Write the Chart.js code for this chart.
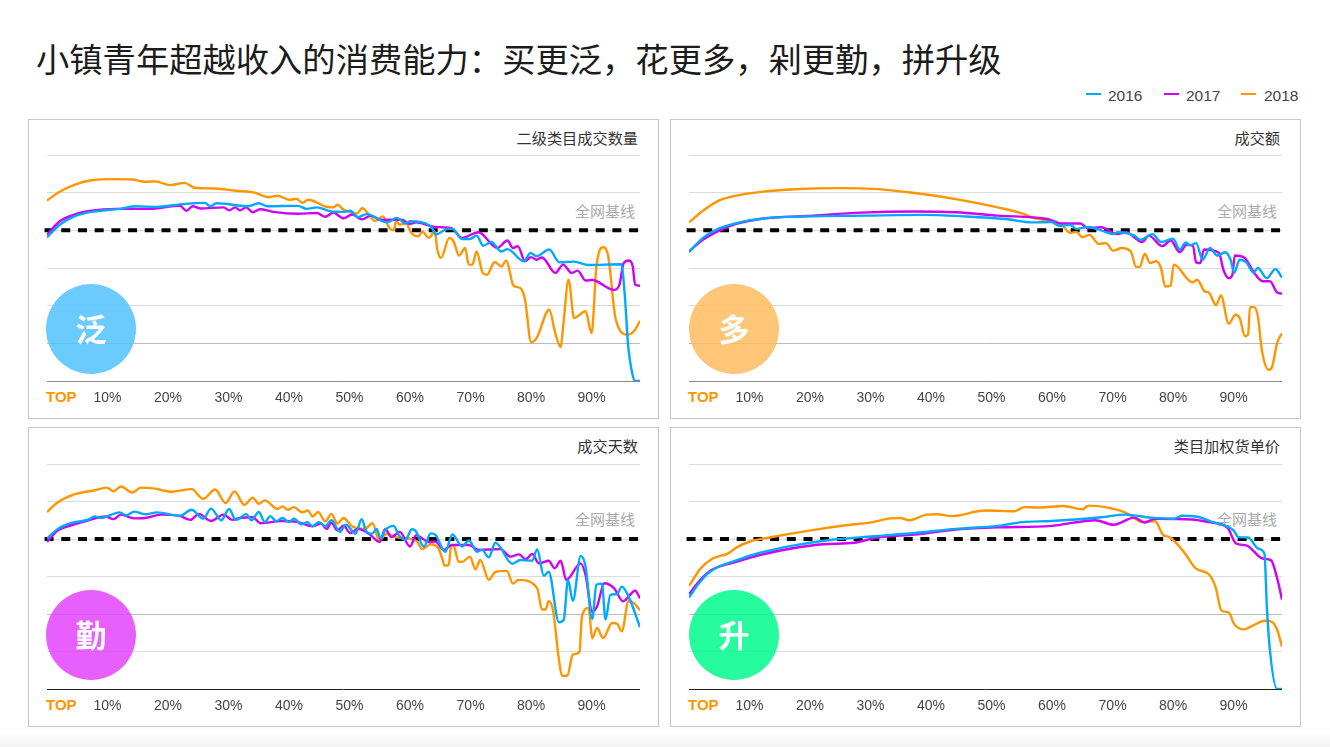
<!DOCTYPE html>
<html lang="zh"><head><meta charset="utf-8">
<style>
html,body{margin:0;padding:0;background:#fff;width:1330px;height:747px;overflow:hidden;font-family:"Liberation Sans",sans-serif}
#fade{position:absolute;left:0;top:731px;width:1330px;height:16px;background:linear-gradient(#fff,#f3f3f3)}
#title{position:absolute;left:36px;top:36px;font:33.3px/44px "Noto Sans CJK SC";color:#1c1c1c;white-space:nowrap}
.leg{position:absolute;top:87px;font-size:15.5px;line-height:18px;color:#444}
.sw{position:absolute;top:93px;width:15px;height:2px}
.panel{position:absolute;width:629px;height:298px;border:1px solid #c6c6c6;box-sizing:content-box}
.panel canvas{position:absolute;left:0;top:0}
.circle{position:absolute;z-index:2;width:90px;height:90px;border-radius:50%;text-align:center;color:#fff;font:bold 31px/88px "Noto Sans CJK SC"}
.ptitle{position:absolute;right:20px;top:7px;font:15.2px/20px "Noto Sans CJK SC";color:#333;white-space:nowrap}
.base{position:absolute;right:23px;top:81px;font:15px/20px "Noto Sans CJK SC";color:#aaa;white-space:nowrap}
.top{position:absolute;left:17px;top:268px;font:bold 15px/18px "Liberation Sans";color:#ff9500}
</style></head><body>
<div id="fade"></div>
<div id="title">小镇青年超越收入的消费能力&#xFF1A;买更泛&#xFF0C;花更多&#xFF0C;剁更勤&#xFF0C;拼升级</div>
<div id="legend"></div>
<div id="panels"></div>
<script src="https://cdn.jsdelivr.net/npm/chart.js@4"></script>
<script>
// Each series is a list of [top-percentile, index value]
const tickLabels=['10%','20%','30%','40%','50%','60%','70%','80%','90%'];
const years=['2016','2017','2018'];
const yearColors=['#00a8ff','#d000f8','#ff9500'];
const baselineValue=40;

const qty2018=[[0,47.9],[1.8,50],[4.5,52.1],[7.3,53.3],[11,53.6],[14.1,53.5],[16.2,52.9],[17.9,53],[20.3,52],[22.7,52.6],[24.4,51.3],[27.8,51.1],[31.2,50.5],[34.3,50],[36.7,48.8],[38.1,49.2],[40.1,48.1],[41.2,48.4],[42.2,47.3],[43.2,48.1],[46.3,46.2],[47.3,46.1],[48,46.8],[49,45.5],[50.4,44.8],[51.2,44.4],[52.1,45.9],[53.2,44.2],[54.2,42.5],[55.5,43.7],[56.6,40.6],[57.3,40],[57.7,42.4],[58.3,41.5],[59.3,41.9],[60.3,39.1],[61.4,38.4],[62,39.7],[63.1,38],[64.1,39.7],[64.5,34.9],[65.1,32.7],[66.5,38],[67.2,37],[68.1,33.3],[69.1,35.3],[69.7,30.9],[70.3,30.9],[71,34.4],[72,28.7],[72.7,28.2],[74,31.6],[75.1,30.4],[75.9,32],[77.1,25.3],[78.2,24.7],[79,21.6],[80,10.3],[80.9,11.4],[83,18.9],[84,12.7],[84.9,9],[85.3,14.5],[86.2,26.9],[87.1,16.7],[89,18.5],[90,12.7],[90.8,30.4],[91.9,35.5],[92.7,33.5],[94,16.3],[96,12.3],[97,13.2],[98,16]];
const qty2017=[[0,38.8],[2.1,42.4],[4.5,44.2],[7.3,45.2],[11.4,45.7],[16.8,45.7],[22,46.5],[23,45.2],[24.1,46.4],[25.4,45.8],[29.2,46.1],[30.1,45.3],[31.1,46.1],[31.9,45.3],[32.9,46.1],[34,44.8],[35.2,45.6],[37.4,44.9],[41.5,44.4],[44.6,44.6],[46,43.6],[47.3,44.7],[49,43.2],[50.4,44.2],[52.1,42.9],[53.5,43.9],[55.2,42.8],[58.6,42.8],[60,41.7],[61,42.1],[64.1,40.9],[66.8,40.6],[68.6,38],[71.3,39.5],[74.4,35.3],[76.1,37.3],[77,35.3],[77.8,35.8],[79,31.8],[80,32.9],[80.9,32.2],[81.8,32.8],[84,28.7],[85.3,30.9],[86.7,28.7],[87.7,29.3],[89,26.7],[90.1,26.8],[93.7,24.2],[94.6,25.6],[95.3,31.3],[96.2,32],[96.8,30.4],[97.2,25.6],[98,25.3]];
const qty2016=[[0,38.1],[2.1,41.5],[4.5,43.7],[7.3,44.9],[12,45.7],[14.8,46.4],[18.2,46.2],[22,46.9],[26.1,47.3],[27,46.4],[28,47.2],[33.3,46.4],[35,47.2],[36.4,46.4],[41.5,46.5],[42.9,45.7],[44.6,46.1],[47,45],[49,44.9],[50.1,45.2],[51.4,43.5],[52.8,44.3],[56.2,42.1],[57.8,43.3],[59.3,41.8],[60,42.4],[63.4,41.1],[64.3,38.9],[66.2,40.4],[67,40.4],[68.6,37.7],[69.9,37.7],[71,38.6],[72.1,35.9],[73.4,36.9],[75.1,34.4],[76.1,35],[78.8,31.8],[79.9,34],[80.9,33.1],[83,34.9],[84.7,31.5],[87.1,31.7],[89.5,30.8],[94.9,31],[95.5,22.5],[96,10.1],[96.7,2.1],[97.2,0],[98,0]];

const gmv2018=[[0,42.1],[2.3,45.2],[5.1,48],[7.8,49.2],[11.9,50.2],[17.4,50.9],[24.9,51.2],[30.4,51],[37.3,49.9],[44.1,48.3],[51,46.1],[55.4,44.3],[56.8,43.3],[59.9,42.4],[61.6,41.5],[63,39.3],[64,39.6],[65,38.2],[66.2,38.8],[67.7,36.4],[68.9,36.6],[70.1,34.6],[71.5,35.3],[73,34.4],[73.9,30.3],[74.5,30.3],[75.3,33.8],[76.2,31.3],[77.2,31.8],[78,30],[78.7,25.1],[79.6,25.3],[80.1,30.9],[83.2,26.2],[84,26.9],[85.2,23.8],[85.9,23.5],[87.1,20.1],[87.9,22.7],[89.2,15.2],[90.3,17.6],[91,16.7],[91.9,11.9],[92.4,12.3],[92.7,19.6],[93.4,19.6],[94,17.2],[94.7,7.9],[95.8,3],[96.3,3.5],[97.2,10.1],[98,12.7]];
const gmv2017=[[0,34.4],[2.3,37.5],[5.1,40],[7.8,41.7],[12.6,43.2],[19.5,43.8],[28.4,44.7],[37.3,45],[44.1,44.8],[51,43.9],[59.2,43],[61.6,41.8],[64.7,41.8],[65.9,40.6],[68.1,40.8],[70.8,39],[72.2,39.5],[74.9,36.9],[76,38.6],[78.2,35.8],[79.6,37.3],[81.1,34.2],[82.3,36.2],[83.3,35.8],[83.8,31.5],[84.5,31.3],[85.1,34.9],[87.6,34],[88.3,29.6],[89.2,27.3],[89.8,28.2],[90.2,33.3],[91.8,32.7],[93.4,28.7],[94.8,26.5],[96,26.5],[97.2,23.5],[98,23.2]];
const gmv2016=[[0,34.2],[2.3,38],[5.1,40.6],[7.8,41.9],[12.6,43.2],[19.5,43.7],[29,43.9],[38.6,44.1],[45.5,43.7],[52.3,43],[56.8,42.1],[59.9,42.2],[61.2,41.2],[63,41.5],[64,40.4],[66,40.9],[68.1,40],[70.1,39],[70.8,39.5],[73.6,38.6],[74.6,37.5],[76.6,39],[78,36.9],[80,37.8],[81.1,34.9],[82.1,36.8],[82.8,36],[83.8,36.6],[84.9,32.2],[86.1,35.3],[87.3,33.3],[88.6,34.2],[89.5,32.2],[90.1,28.7],[91,32.2],[92.1,31.5],[93.3,28.8],[94,30],[95.5,27.3],[96.9,29.7],[98,27.5]];

const days2018=[[0,47.2],[1.8,49.8],[4.5,51.9],[7.9,53],[9.9,53.7],[11,52.7],[12.2,54],[14.1,52.4],[15.5,53.7],[17.6,53.5],[20.6,52.6],[23.9,53.3],[25.8,50.7],[27.8,53.2],[29.5,49.6],[31,52.7],[32.6,49.1],[34,51],[35,49.4],[36,50.3],[38.1,48],[38.9,48.7],[39.8,47.8],[40.8,48.5],[42.2,47.1],[43.1,47.6],[43.9,46],[44.8,47.2],[46,44.7],[47,46.7],[48,44.1],[49,45.6],[50.4,43.4],[52.5,42.7],[53.8,44.2],[54.9,39.6],[56.2,41.4],[57.6,40.5],[60,40.1],[61.2,39.3],[62,37.3],[63.4,38.6],[64.7,37.5],[65.3,34.9],[65.7,32.9],[66.4,33.1],[66.8,38.4],[67.3,37.9],[68,34],[68.6,33.9],[69.9,35.3],[70.8,31.9],[71.6,34.4],[73,29.1],[74.1,31.2],[76,31.5],[77,28.1],[77.9,29.1],[81,26.9],[81.8,21.2],[82.4,21.2],[82.9,23.4],[83.6,21.2],[84.6,7.9],[85.1,3.5],[86,3.6],[86.9,9.2],[88,9.9],[88.4,19.4],[89.5,21.6],[90.1,13.5],[90.9,16.3],[91.9,13.6],[93.4,17.6],[94.2,17.4],[95,15.4],[96.1,23.4],[97,22.9],[98,21]];
const days2017=[[0,39.2],[1.8,42.3],[3.9,43.6],[6.9,45],[9.7,46],[11,45.3],[12.2,46.5],[14.4,45.5],[16.2,45.6],[18.9,46.5],[22,46.1],[23.7,45.1],[25.1,46.7],[27.1,44.8],[29.2,46.5],[30.6,45.1],[31.9,45.6],[34,45.8],[35.3,44.2],[38.8,44.8],[41.5,44.5],[43.9,43.4],[45.3,44.1],[46.2,42.7],[47,44.3],[48,42.3],[49,43.6],[50.1,41.6],[51.4,42.7],[53.2,41.4],[55,39.2],[55.9,42.7],[56.9,40.5],[58.3,41.9],[60,38],[61,41],[63.1,39.2],[64.2,39.3],[65.6,37.1],[66.9,38.4],[69.7,38.4],[71.4,37.1],[74.9,37.3],[76.6,35.3],[78,35.9],[79.1,34.6],[80.2,36],[81.3,33.5],[82.9,34.2],[83.9,32.2],[84.9,34.2],[85.8,29.1],[88.2,33.5],[89,30.4],[90.1,20.7],[90.9,22],[92.1,28.2],[93.7,26.9],[95.2,23.4],[97.2,26.2],[98,24.2]];
const days2016=[[0,40.1],[1.8,42.7],[3.9,44.2],[6.9,45.2],[7.9,46],[8.9,45.6],[12,47.1],[13.1,46.3],[14.4,47.3],[16.2,46.6],[18.2,47.1],[22,46.2],[23.9,47.8],[25.8,45.4],[27.1,48.1],[28.8,45],[30.1,48],[31.2,45.1],[31.9,45.6],[32.9,46.7],[33.8,45],[35,47.2],[36,44.5],[36.9,46.1],[37.9,44.7],[38.9,45.6],[40,44.5],[40.8,45.4],[42.1,43.9],[43,44.5],[43.9,43.4],[44.9,44.5],[46,43.4],[47,45],[48.4,41.9],[49.4,43.8],[51,41.4],[52,45.3],[52.8,41.9],[53.7,41.4],[54.5,42.7],[55.1,40.2],[55.9,42.4],[57.3,43.5],[58.1,41.1],[59.2,39.7],[60.3,42.6],[60.9,42.2],[62.3,38],[63.4,41.5],[64.2,41.1],[65.8,36.6],[67,41.2],[68.6,38],[69.7,39.6],[71.1,36.6],[71.9,37.1],[73,35.1],[74.1,39],[76.9,33.4],[78.2,34.4],[80.2,34.2],[81,37.3],[82.1,30.2],[82.9,31.3],[84.6,17.8],[85.4,18.5],[86.1,29.1],[86.9,23.5],[88.2,35.5],[89,32.7],[90.1,18.7],[90.8,27.8],[91.7,28.1],[92.3,18.5],[93.1,25.1],[94.2,25.3],[95,27.3],[96.1,24.7],[98,16.5]];

const price2018=[[0,27.5],[1.9,32.1],[3.9,34.8],[6.4,36.1],[7.8,37.7],[10.2,39.4],[13.3,40.4],[20.1,42.3],[25.6,43.6],[30.4,44.5],[33.2,45.5],[34.9,45.6],[36.4,45],[39.3,46.5],[41,46.6],[43.4,46.1],[48.9,47.6],[53.7,47.4],[55.4,48.5],[57.8,48.4],[61.9,48.8],[65,47.9],[66,48.9],[68.8,48.5],[72.2,47],[75,44.5],[77,44.8],[78.4,41],[79.4,40.5],[81.8,36.5],[83.8,32.1],[85.9,30.6],[87,27.3],[88,20.9],[89.2,20.4],[90.1,17.3],[91.7,15.9],[93.4,17.1],[95.1,18.2],[96.3,17.9],[97.2,15.8],[98,11.3]];
const price2017=[[0,25.3],[1.6,28.6],[3.7,31.7],[7.8,33.9],[11.9,35.8],[17.4,37.6],[22.2,38.6],[27.3,39],[31.1,40.4],[37.3,41.2],[44.1,42.5],[51,43.1],[59.9,43.5],[63.3,44.3],[67.1,45],[70.2,43.8],[73.6,45.7],[75.3,44.4],[77,45.4],[83.2,45.2],[85.9,44.5],[89,43],[90.4,38.8],[92.1,38.3],[94.8,34.8],[96.2,34.3],[97.2,29.5],[98,23.9]];
const price2016=[[0,24.4],[1.6,28.1],[3.4,31.2],[7.8,34.3],[11.9,36.4],[17.4,38.3],[23.6,39.8],[31.1,40.8],[37.3,41.6],[44.1,42.7],[51,43.5],[55.1,44.5],[59.9,44.8],[68.1,45.8],[72.2,46.5],[76.3,45.7],[80.1,45.4],[81.5,46.2],[83.8,46],[86.6,44.5],[90,42.3],[90.8,40.5],[92.4,40.4],[94.1,37.4],[95.1,36.1],[95.5,21.9],[96,10.4],[97.2,0],[98,0]];

const panelTitles=['二级类目成交数量','成交额','成交天数','类目加权货单价'];
const badgeTexts=['泛','多','勤','升'];
const badgeColors=['rgba(81,194,255,.85)','rgba(255,188,95,.85)','rgba(228,67,255,.85)','rgba(0,250,141,.85)'];
const seriesByPanel=[[qty2016,qty2017,qty2018],[gmv2016,gmv2017,gmv2018],[days2016,days2017,days2018],[price2016,price2017,price2018]];
const axisColors=['#8a8a8a','#8a8a8a','#222222','#222222'];
const midGridColors=[{10:'#bbbbbb'},{10:'#bbbbbb'},{20:'#bbbbbb'},{20:'#bbbbbb'}];

// layout
const panelBoxes=[[28,119],[670,119],[28,427],[670,427]];
const legendX=[[1086,1108],[1164,1186],[1241,1264]];
years.forEach((y,i)=>{
  const s=document.createElement('div');s.className='sw';s.style.left=legendX[i][0]+'px';s.style.background=yearColors[i];document.body.appendChild(s);
  const t=document.createElement('div');t.className='leg';t.style.left=legendX[i][1]+'px';t.textContent=y;document.body.appendChild(t);
});
const W=629,H=298;
panelBoxes.forEach((b,p)=>{
  const el=document.createElement('div');el.className='panel';el.style.left=b[0]+'px';el.style.top=b[1]+'px';
  el.innerHTML='<div class="circle" style="left:'+(p%2?18:17)+'px;top:'+(p<2?163.5:161.5)+'px;background:'+badgeColors[p]+'">'+badgeTexts[p]+'</div>'+
    '<div class="ptitle">'+panelTitles[p]+'</div><div class="base">全网基线</div><div class="top">TOP</div>';
  const c=document.createElement('canvas');c.width=W;c.height=H;c.style.width=W+'px';c.style.height=H+'px';el.appendChild(c);
  document.getElementById('panels').appendChild(el);
  const datasets=seriesByPanel[p].map((d,i)=>({label:years[i],data:d.map(q=>({x:q[0],y:q[1]})),borderColor:yearColors[i],borderWidth:2.4,pointRadius:0,cubicInterpolationMode:'monotone',fill:false}));
  datasets.push({label:'全网基线',data:[{x:-0.4,y:baselineValue},{x:98,y:baselineValue}],borderColor:'#000',borderWidth:4,borderDash:[9,7.7],pointRadius:0,clip:false});
  new Chart(c,{type:'line',data:{datasets},options:{
    responsive:false,animation:false,devicePixelRatio:1,
    layout:{padding:{left:0,right:18,top:p<2?35:36,bottom:0}},
    plugins:{legend:{display:false},tooltip:{enabled:false}},
    scales:{
      x:{type:'linear',min:0,max:98,border:{display:false},grid:{display:false},
        afterFit(s){s.height=37;},
        ticks:{stepSize:10,autoSkip:false,maxRotation:0,padding:1,color:'#444',font:{size:14,family:'"Liberation Sans"'},
          callback:v=>{const i=v/10-1;return Number.isInteger(i)&&tickLabels[i]?tickLabels[i]:'';}}},
      y:{min:0,max:60,position:'left',border:{display:false},
        afterFit(s){s.width=18;},
        ticks:{stepSize:10,display:false},
        grid:{drawTicks:false,lineWidth:1,color:ctx=>ctx.tick.value===0?axisColors[p]:(midGridColors[p][ctx.tick.value]||'#dcdcdc')}}
    }
  }});
});
</script></body></html>
